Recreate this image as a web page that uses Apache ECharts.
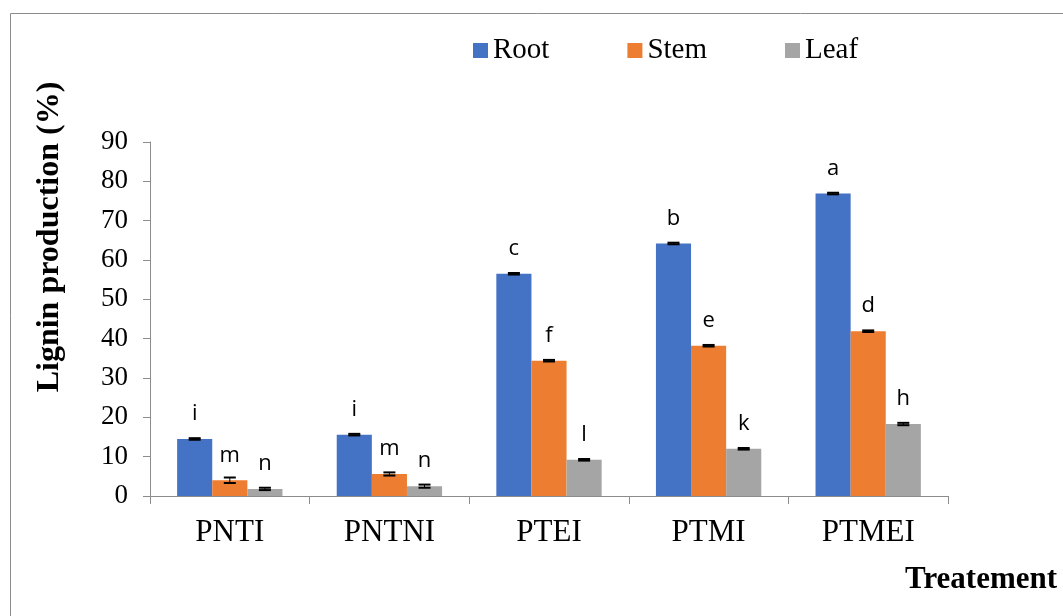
<!DOCTYPE html>
<html><head><meta charset="utf-8">
<script src="https://cdn.jsdelivr.net/npm/echarts@6/dist/echarts.min.js"></script>
<style>html,body{margin:0;padding:0;background:#fff}#c{width:1063px;height:616px}</style>
</head><body><div id="c"></div>
<script>
const categories = ['PNTI','PNTNI','PTEI','PTMI','PTMEI'];
const seriesNames = ['Root','Stem','Leaf'];
const rootValues = [14.5, 15.6, 56.5, 64.2, 76.9];
const stemValues = [4.0, 5.6, 34.4, 38.2, 41.9];
const leafValues = [1.8, 2.5, 9.2, 12.0, 18.3];
const rootErrors = [0.2, 0.2, 0.2, 0.2, 0.2];
const stemErrors = [0.7, 0.4, 0.2, 0.2, 0.2];
const leafErrors = [0.3, 0.4, 0.2, 0.2, 0.3];
const rootLetters = ['i','i','c','b','a'];
const stemLetters = ['m','m','f','e','d'];
const leafLetters = ['n','n','l','k','h'];
const yTicks = [0,10,20,30,40,50,60,70,80,90];

const colors = ['#4472C4','#ED7D31','#A5A5A5'];
const values = [rootValues, stemValues, leafValues];
const errors = [rootErrors, stemErrors, leafErrors];
const letters = [rootLetters, stemLetters, leafLetters];
const GAP = 0.34;
const SERIF = '"Liberation Serif", "Times New Roman", serif';

const chart = echarts.init(document.getElementById('c'), null, {renderer:'canvas'});
const series = [];
seriesNames.forEach((name, si) => {
  series.push({
    name: name, type: 'bar', barGap: '0%', barCategoryGap: (GAP*100)+'%',
    itemStyle: {color: colors[si]},
    data: values[si].map((v, ci) => ({value: v})),
    label: {
      show: true, position: 'top',
      distance: 14,
      fontFamily: 'Open Sans, Liberation Sans, sans-serif', fontSize: 22, color: '#000',
      formatter: p => letters[si][p.dataIndex]
    }
  });
});
const errData = [];
seriesNames.forEach((name, si) => {
  values[si].forEach((v, ci) => errData.push([ci, v, errors[si][ci], si]));
});
series.push({
  type: 'custom', name: 'err', z: 10, silent: true,
  renderItem: function (params, api) {
    const ci = api.value(0), v = api.value(1), e = api.value(2), si = api.value(3);
    const band = api.size([1, 0])[0];
    const groupW = band * (1 - GAP);
    const bw = groupW / 3;
    const c = api.coord([ci, v]);
    const x = c[0] - groupW / 2 + bw * (si + 0.5);
    const hi = api.coord([ci, v + e])[1];
    const lo = api.coord([ci, v - e])[1];
    const cap = 6;
    const st = {stroke: '#000', lineWidth: 2};
    return {type: 'group', children: [
      {type: 'line', shape: {x1: x, y1: hi, x2: x, y2: lo}, style: {stroke:'#000', lineWidth:1}},
      {type: 'line', shape: {x1: x - cap, y1: hi, x2: x + cap, y2: hi}, style: st},
      {type: 'line', shape: {x1: x - cap, y1: lo, x2: x + cap, y2: lo}, style: st}
    ]};
  },
  encode: {x: 0, y: 1},
  data: errData
});

chart.setOption({
  animation: false,
  backgroundColor: '#fff',
  graphic: [
    {type: 'rect', shape: {x: 10.5, y: 13.5, width: 1200, height: 800}, style: {fill: 'none', stroke: '#8c8c8c', lineWidth: 1}, z: -1},
    {type: 'text', x: 905, y: 580, style: {text: 'Treatement', font: 'bold 31px ' + SERIF, fill: '#000', textVerticalAlign: 'middle', verticalAlign: 'middle'}},
    {type: 'text', x: 50, y: 237, rotation: Math.PI / 2, style: {text: 'Lignin production (%)', font: 'bold 32px ' + SERIF, fill: '#000', align: 'center', verticalAlign: 'middle', textAlign: 'center', textVerticalAlign: 'middle'}}
  ],
  legend: {
    data: seriesNames, left: 468, top: 31, itemWidth: 15, itemHeight: 15, itemGap: 78,
    icon: 'rect',
    textStyle: {fontFamily: SERIF, fontSize: 29, color: '#000', padding: [0,0,0,0]}
  },
  grid: {left: 150, right: 115, top: 142, bottom: 120, containLabel: false},
  xAxis: {
    type: 'category', data: categories,
    axisLine: {lineStyle: {color: '#8c8c8c', width: 1}},
    axisTick: {show: true, inside: false, length: 8, alignWithLabel: false, lineStyle: {color: '#8c8c8c'}},
    axisLabel: {fontFamily: SERIF, fontSize: 31, color: '#000', margin: 21}
  },
  yAxis: {
    type: 'value', min: 0, max: 90, interval: 10,
    axisLine: {show: true, lineStyle: {color: '#8c8c8c', width: 1}},
    axisTick: {show: true, length: 7, lineStyle: {color: '#8c8c8c'}},
    splitLine: {show: false},
    axisLabel: {fontFamily: SERIF, fontSize: 27, color: '#000', margin: 22,
      formatter: v => yTicks.includes(v) ? String(v) : ''}
  },
  series: series
});
</script></body></html>
